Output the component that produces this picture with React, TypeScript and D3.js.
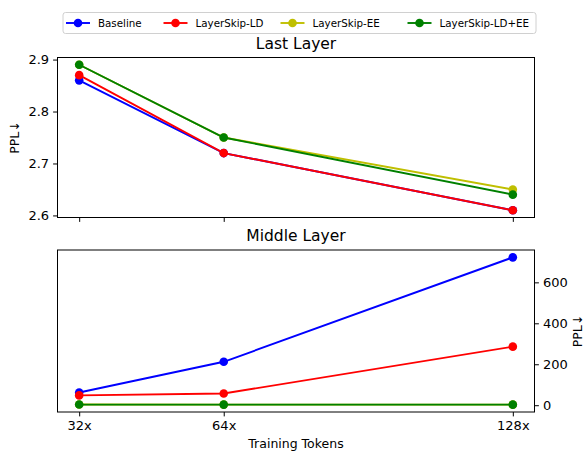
import React, { useEffect, useRef } from 'react';
import * as d3 from 'd3';

const tokens = [32, 64, 128];
const tokenLabels = ['32x', '64x', '128x'];

const seriesNames = ['Baseline', 'LayerSkip-LD', 'LayerSkip-EE', 'LayerSkip-LD+EE'];
const seriesColors = ['#0000ff', '#ff0000', '#bfbf00', '#008000'];

// Last layer perplexity
const lastBaseline = [2.86, 2.72, 2.61];
const lastLD = [2.87, 2.72, 2.61];
const lastEE = [2.89, 2.75, 2.65];
const lastLDEE = [2.89, 2.75, 2.64];

// Middle layer perplexity
const midBaseline = [62, 212, 722];
const midLD = [48, 57, 286];
const midEE = [3.2, 3.0, 2.9];
const midLDEE = [3.1, 2.9, 2.8];

const lastTicks = [2.6, 2.7, 2.8, 2.9];
const midTicks = [0, 200, 400, 600];

const FONT = 'DejaVu Sans, sans-serif';

export default function App() {
    const ref = useRef<SVGSVGElement>(null);

    useEffect(() => {
        document.body.style.margin = '0';
        const svg = d3.select(ref.current);
        svg.selectAll('*').remove();

        const left = 57.5, right = 534.5;
        const top1 = 57.5, bottom1 = 217.5;
        const top2 = 250, bottom2 = 412;

        const pad = (lo: number, hi: number): [number, number] => {
            const m = (hi - lo) * 0.05;
            return [lo - m, hi + m];
        };

        const x = d3.scaleLinear().domain(pad(32, 128)).range([left, right]);

        const lastSeries = [lastBaseline, lastLD, lastEE, lastLDEE];
        const midSeries = [midBaseline, midLD, midEE, midLDEE];

        const yTop = d3.scaleLinear()
            .domain(pad(d3.min(lastSeries.flat())!, d3.max(lastSeries.flat())!))
            .range([bottom1, top1]);
        const yBot = d3.scaleLinear()
            .domain(pad(d3.min(midSeries.flat())!, d3.max(midSeries.flat())!))
            .range([bottom2, top2]);

        const styleAxis = (g: any) => {
            g.selectAll('text').attr('font-family', FONT).attr('font-size', 13).attr('fill', '#000');
            g.selectAll('line').attr('stroke', '#000').attr('stroke-width', 1);
            g.select('.domain').remove();
        };

        const drawPanel = (series: number[][], y: any, top: number, bottom: number, title: string) => {
            const g = svg.append('g');
            const clipId = 'clip' + Math.round(top);
            g.append('clipPath').attr('id', clipId)
                .append('rect').attr('x', left).attr('y', top).attr('width', right - left).attr('height', bottom - top);

            const plot = g.append('g').attr('clip-path', `url(#${clipId})`);
            const line = d3.line<number>().x((d, i) => x(tokens[i])).y(d => y(d));
            series.forEach((vals, si) => {
                plot.append('path')
                    .attr('d', line(vals))
                    .attr('fill', 'none')
                    .attr('stroke', seriesColors[si])
                    .attr('stroke-width', 1.9);
                plot.selectAll(null)
                    .data(vals)
                    .join('circle')
                    .attr('cx', (d, i) => x(tokens[i]))
                    .attr('cy', d => y(d))
                    .attr('r', 4.3)
                    .attr('fill', seriesColors[si]);
            });

            g.append('rect')
                .attr('x', left).attr('y', top)
                .attr('width', right - left).attr('height', bottom - top)
                .attr('fill', 'none').attr('stroke', '#000').attr('stroke-width', 1);

            g.append('text')
                .attr('x', (left + right) / 2).attr('y', top - 9)
                .attr('text-anchor', 'middle')
                .attr('font-family', FONT).attr('font-size', 15.5)
                .text(title);
            return g;
        };

        // Top panel
        drawPanel(lastSeries, yTop, top1, bottom1, 'Last Layer');
        svg.append('g')
            .attr('transform', `translate(${left},0)`)
            .call(d3.axisLeft(yTop).tickValues(lastTicks).tickFormat(d3.format('.1f')).tickSize(4.4).tickPadding(4))
            .call(styleAxis);
        svg.append('g')
            .attr('transform', `translate(0,${bottom1})`)
            .call(d3.axisBottom(x).tickValues(tokens).tickFormat(() => '').tickSize(4.4))
            .call(styleAxis);
        svg.append('text')
            .attr('transform', `translate(19,${(top1 + bottom1) / 2}) rotate(-90)`)
            .attr('text-anchor', 'middle')
            .attr('font-family', FONT).attr('font-size', 12.5)
            .text('PPL↓');

        // Bottom panel
        drawPanel(midSeries, yBot, top2, bottom2, 'Middle Layer');
        svg.append('g')
            .attr('transform', `translate(${right},0)`)
            .call(d3.axisRight(yBot).tickValues(midTicks).tickSize(4.4).tickPadding(4))
            .call(styleAxis);
        svg.append('g')
            .attr('transform', `translate(0,${bottom2})`)
            .call(d3.axisBottom(x).tickValues(tokens).tickFormat((d, i) => tokenLabels[i]).tickSize(4.4).tickPadding(4))
            .call(styleAxis);
        svg.append('text')
            .attr('transform', `translate(582,${(top2 + bottom2) / 2}) rotate(-90)`)
            .attr('text-anchor', 'middle')
            .attr('font-family', FONT).attr('font-size', 12.5)
            .text('PPL↓');
        svg.append('text')
            .attr('x', (left + right) / 2).attr('y', 448)
            .attr('text-anchor', 'middle')
            .attr('font-family', FONT).attr('font-size', 12.5)
            .text('Training Tokens');

        // Legend
        const leg = svg.append('g');
        leg.append('rect')
            .attr('x', 63).attr('y', 12.5).attr('width', 473).attr('height', 21)
            .attr('rx', 2.5)
            .attr('fill', '#fff').attr('stroke', '#d0d0d0').attr('stroke-width', 1);
        const itemX = [66, 163.5, 280.5, 407.5];
        seriesNames.forEach((name, i) => {
            const gx = itemX[i];
            const item = leg.append('g').attr('transform', `translate(${gx},23)`);
            item.append('line').attr('x1', 0).attr('x2', 24).attr('stroke', seriesColors[i]).attr('stroke-width', 1.9);
            item.append('circle').attr('cx', 12).attr('r', 4.3).attr('fill', seriesColors[i]);
            item.append('text')
                .attr('x', 32).attr('y', 3.7)
                .attr('font-family', FONT).attr('font-size', 10.3)
                .text(name);
        });
    }, []);

    return (
        <div>
            <svg ref={ref} width={585} height={452} style={{ display: 'block', background: '#fff' }} />
        </div>
    );
}
